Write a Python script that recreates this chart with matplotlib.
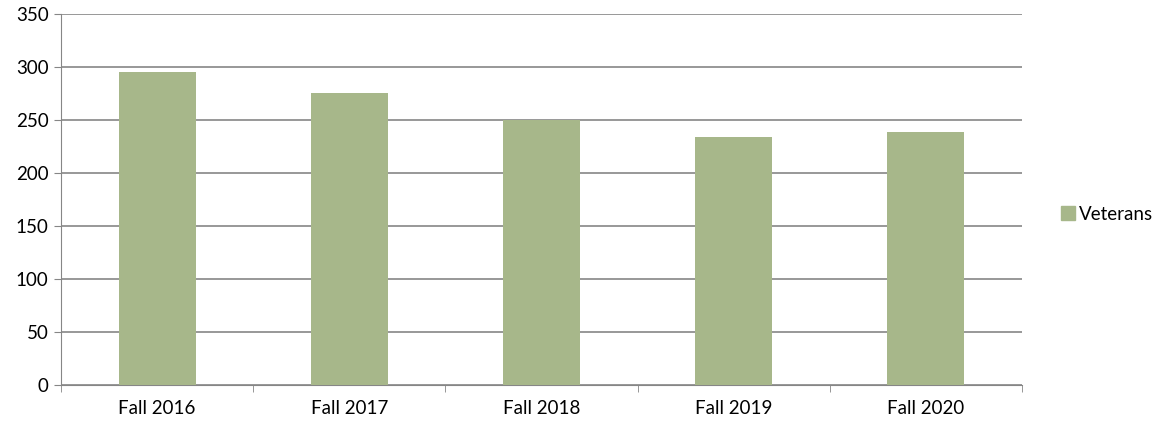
import matplotlib
matplotlib.use("Agg")
import matplotlib.pyplot as plt
from matplotlib.patches import Patch

categories = ["Fall 2016", "Fall 2017", "Fall 2018", "Fall 2019", "Fall 2020"]
veterans = [295, 275, 250, 234, 239]
yticks = [0, 50, 100, 150, 200, 250, 300, 350]

plt.rcParams['font.family'] = ['Lato', 'DejaVu Sans']
bar_color = '#A7B78A'
grid_color = '#868686'
fs = 13.5

fig = plt.figure(figsize=(11.58, 4.26), dpi=100)
ax = fig.add_axes([61/1158, 1 - 384.5/426, (1022-61)/1158, (384.5-14)/426])

x = list(range(len(categories)))
ax.bar(x, veterans, width=0.4, color=bar_color, zorder=3)

ax.set_xlim(-0.5, len(categories) - 0.5)
ax.set_ylim(0, 350)
ax.set_yticks(yticks)
ax.set_yticklabels([str(v) for v in yticks], fontsize=fs)
ax.set_xticks(x)
ax.set_xticklabels(categories, fontsize=fs)
ax.tick_params(axis='x', length=0, pad=11)
ax.tick_params(axis='y', length=5, color=grid_color, pad=4)
ax.set_xticks([i - 0.5 for i in range(len(categories) + 1)], minor=True)
ax.tick_params(axis='x', which='minor', length=5, color=grid_color)

ax.yaxis.grid(True, color=grid_color, linewidth=1.2, zorder=0)
for s in ['top', 'right']:
    ax.spines[s].set_visible(False)
ax.spines['left'].set_color(grid_color)
ax.spines['bottom'].set_color(grid_color)

fig.legend(handles=[Patch(color=bar_color, label='Veterans')],
           loc='center left', bbox_to_anchor=(1053/1158, 1 - 214/426),
           frameon=False, fontsize=fs, handlelength=0.75, handleheight=0.75,
           handletextpad=0.25, borderaxespad=0)

fig.savefig("out.png", dpi=100)
